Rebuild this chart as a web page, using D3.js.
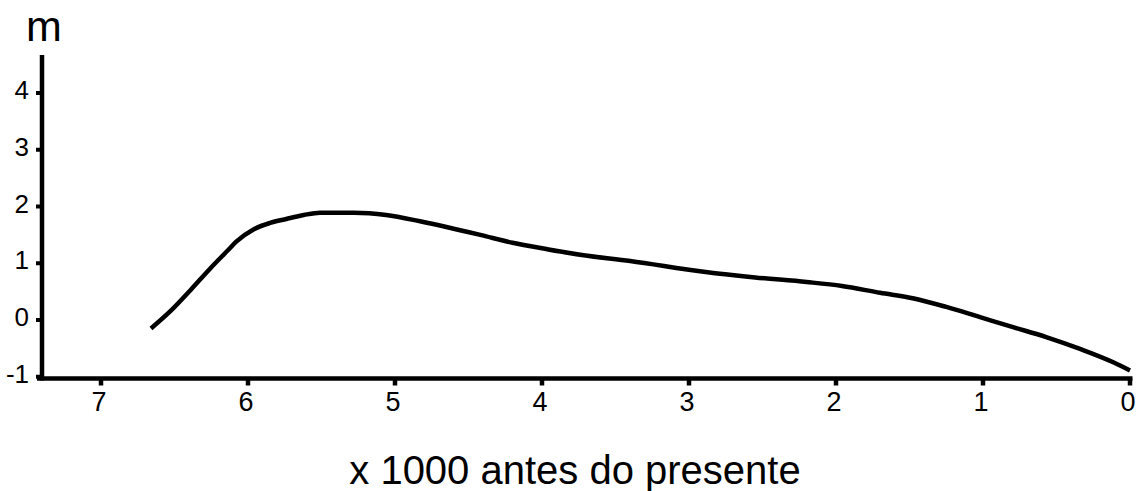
<!DOCTYPE html>
<html>
<head>
<meta charset="utf-8">
<script src="https://cdn.jsdelivr.net/npm/d3@7"></script>
<style>
  body { margin: 0; background: #fff; }
  text { font-family: "Liberation Sans", Arial, sans-serif; fill: #000; }
</style>
</head>
<body>
<svg id="chart" width="1139" height="491"></svg>
<script>
// data (thousands of years before present, metres)
var years  = [6.66, 6.53, 6.39, 6.26, 6.14, 6.08, 5.96, 5.85, 5.74, 5.62, 5.51, 5.28, 5.06, 4.83,
              4.65, 4.42, 4.20, 3.97, 3.74, 3.40, 2.90, 2.55, 2.20, 1.96, 1.70, 1.47, 1.25, 1.02,
              0.79, 0.57, 0.34, 0.11, 0.00];
var levels = [-0.15, 0.15, 0.53, 0.90, 1.22, 1.38, 1.60, 1.71, 1.78, 1.85, 1.89, 1.89, 1.85, 1.74,
              1.64, 1.50, 1.36, 1.25, 1.15, 1.04, 0.85, 0.75, 0.67, 0.60, 0.48, 0.38, 0.23, 0.05,
              -0.13, -0.30, -0.51, -0.75, -0.89];
var xTicks = [7, 6, 5, 4, 3, 2, 1, 0];
var yTicks = [-1, 0, 1, 2, 3, 4];

var svg = d3.select('#chart');

var xScale = d3.scaleLinear().domain([7, 0]).range([101, 1130]);
var yScale = d3.scaleLinear().domain([-1, 4]).range([376.75, 93]);

// y axis
var gy = svg.append('g').attr('transform', 'translate(42,0)');
gy.append('line')
    .attr('x1', 0).attr('x2', 0)
    .attr('y1', 55).attr('y2', 380.5)
    .attr('stroke', '#000').attr('stroke-width', 4.5);
gy.selectAll('.ytick').data(yTicks).enter()
    .append('line')
    .attr('class', 'ytick')
    .attr('x1', -6).attr('x2', 0)
    .attr('y1', d => yScale(d)).attr('y2', d => yScale(d))
    .attr('stroke', '#000').attr('stroke-width', 4);
gy.selectAll('.ylab').data(yTicks).enter()
    .append('text')
    .attr('class', 'ylab')
    .attr('x', -13)
    .attr('y', d => yScale(d) + 6)
    .attr('text-anchor', 'end')
    .style('font-size', '26px')
    .text(d => d);

// x axis
var gx = svg.append('g').attr('transform', 'translate(0,378.5)');
gx.append('line')
    .attr('x1', 37).attr('x2', 1132.5)
    .attr('y1', 0).attr('y2', 0)
    .attr('stroke', '#000').attr('stroke-width', 4.5);
gx.selectAll('.xtick').data(xTicks).enter()
    .append('line')
    .attr('class', 'xtick')
    .attr('x1', d => xScale(d)).attr('x2', d => xScale(d))
    .attr('y1', 0).attr('y2', 7)
    .attr('stroke', '#000').attr('stroke-width', 4.5);
gx.selectAll('.xlab').data(xTicks).enter()
    .append('text')
    .attr('class', 'xlab')
    .attr('x', d => xScale(d) - 2)
    .attr('y', 32)
    .attr('text-anchor', 'middle')
    .style('font-size', '27px')
    .text(d => d);

// labels
svg.append('text')
    .attr('x', 575).attr('y', 484)
    .attr('text-anchor', 'middle')
    .style('font-size', '40px')
    .text('x 1000 antes do presente');

svg.append('text')
    .attr('x', 26).attr('y', 41)
    .style('font-size', '43px')
    .text('m');

// curve
var line = d3.line()
    .x((d, i) => xScale(years[i]))
    .y(d => yScale(d))
    .curve(d3.curveMonotoneX);

svg.append('path')
    .datum(levels)
    .attr('d', line)
    .attr('fill', 'none')
    .attr('stroke', '#000')
    .attr('stroke-width', 4.5);
</script>
</body>
</html>
